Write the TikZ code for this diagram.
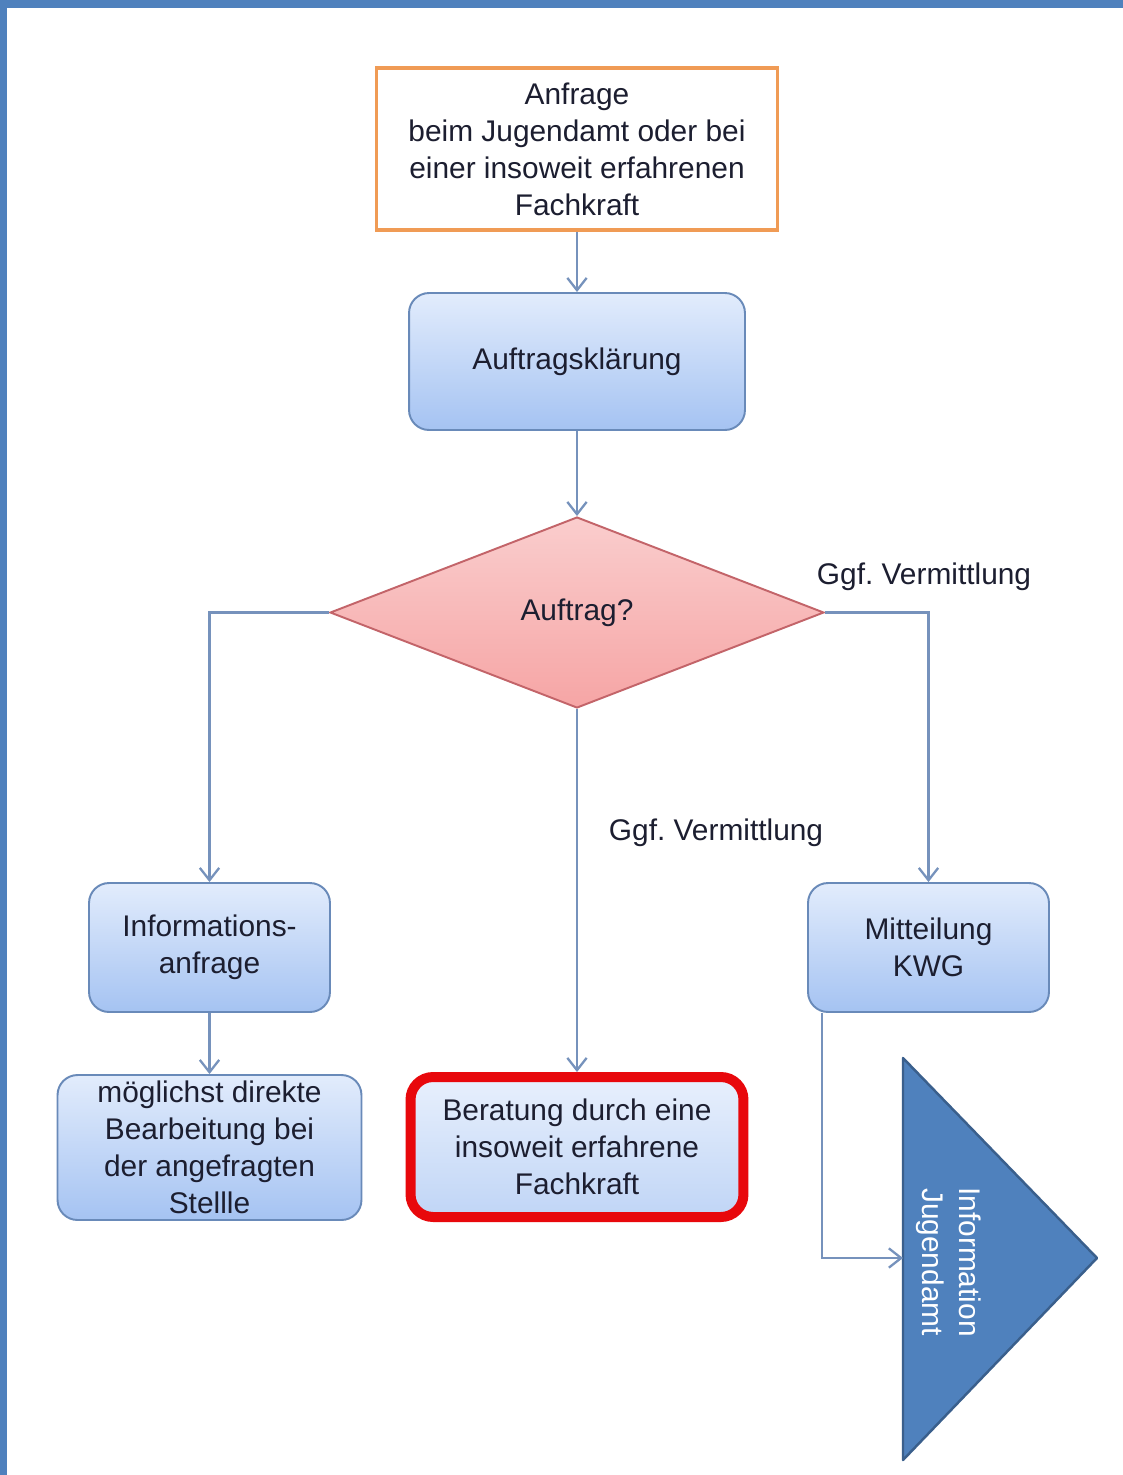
\documentclass[tikz,border=0pt]{standalone}
\usepackage{fontspec}
\setmainfont{Liberation Sans}
\usetikzlibrary{shapes.geometric, arrows.meta, positioning}

\definecolor{frameblue}{RGB}{79,129,189}
\definecolor{orangeline}{RGB}{240,155,85}
\definecolor{boxline}{RGB}{105,138,185}
\definecolor{boxtop}{RGB}{226,236,252}
\definecolor{boxbottom}{RGB}{165,195,242}
\definecolor{pinktop}{RGB}{250,205,205}
\definecolor{pinkbottom}{RGB}{246,165,165}
\definecolor{pinkline}{RGB}{195,100,105}
\definecolor{redline}{RGB}{232,8,12}
\definecolor{linecol}{RGB}{118,146,188}
\definecolor{textdark}{RGB}{28,30,48}
\definecolor{triline}{RGB}{58,95,140}

\begin{document}
\begin{tikzpicture}[
    x=0.02cm, y=-0.02cm,
    font=\fontsize{17}{21}\selectfont,
    start/.style={rectangle, minimum width=8.02cm, minimum height=3.24cm, align=center, draw=orangeline, line width=2.2pt, fill=white, text=textdark},
    box/.style={rectangle, rounded corners=0.4cm, minimum width=4.82cm, minimum height=2.58cm, align=center, draw=boxline, line width=1.1pt, top color=boxtop, bottom color=boxbottom, text=textdark, inner sep=2pt},
    decision/.style={diamond, minimum width=9.88cm, minimum height=3.82cm, inner sep=0pt, draw=pinkline, line width=1.1pt, top color=pinktop, bottom color=pinkbottom, text=textdark},
    highlight/.style={box, draw=redline, line width=0.2cm, rounded corners=0.45cm, top color=boxtop!80!white, bottom color=boxbottom!70!white},
    arrow/.style={-{Straight Barb[length=7pt, width=11pt]}, draw=linecol, line width=1.3pt},
    edge_label/.style={text=textdark}
]

% frame and page
\useasboundingbox (0,0) rectangle (1123,1475);
\fill[white] (0,0) rectangle (1123,1475);
\fill[frameblue] (0,0) rectangle (1123,8);
\fill[frameblue] (0,0) rectangle (7,1475);

% top of the flow
\node (anfrage) [start] at (577,149) {Anfrage\\beim Jugendamt oder bei\\einer insoweit erfahrenen\\Fachkraft};
\node (klaerung) [box, minimum width=6.72cm, minimum height=2.74cm] at (577,361.5) {Auftragskl\"arung};
\node (auftrag) [decision] at (577,612.5) {Auftrag?};

% three branches
\node (infoanfrage) [box] at (209.5,947.5) {Informations-\\anfrage};
\node (bearbeitung) [box, minimum width=6.08cm, minimum height=2.9cm] at (209.5,1147.5) {m\"oglichst direkte\\Bearbeitung bei\\der angefragten\\Stellle};
\node (beratung) [highlight, minimum width=6.66cm, minimum height=2.8cm] at (577,1147) {Beratung durch eine\\insoweit erfahrene\\Fachkraft};
\node (kwg) [box] at (928.5,947.5) {Mitteilung\\KWG};

% Information Jugendamt
\coordinate (tri_top) at (903,1058);
\coordinate (tri_tip) at (1097,1258);
\coordinate (tri_bottom) at (903,1460);
\coordinate (tri_in) at (903,1258);
\filldraw[fill=frameblue, draw=triline, line width=1.4pt, line join=round] (tri_top) -- (tri_tip) -- (tri_bottom) -- cycle;
\node (jugendamt) [rotate=-90, align=center, text=white] at (949,1262) {Information\\Jugendamt};

% Arrows
\draw [arrow] (anfrage) -- (klaerung);
\draw [arrow] (klaerung) -- (auftrag);
\draw [arrow] (auftrag.west) -| (infoanfrage.north);
\draw [arrow] (auftrag.east) -| (kwg.north);
\draw [arrow] (auftrag.south) -- (beratung.north);
\draw [arrow] (infoanfrage) -- (bearbeitung);
\draw [arrow] ([xshift=0.3cm]kwg.south west) |- (tri_in);

% labels
\node (label_right) [edge_label] at (924,577) {Ggf.\ Vermittlung};
\node (label_mid) [edge_label] at (716,833) {Ggf.\ Vermittlung};

\end{tikzpicture}
\end{document}
